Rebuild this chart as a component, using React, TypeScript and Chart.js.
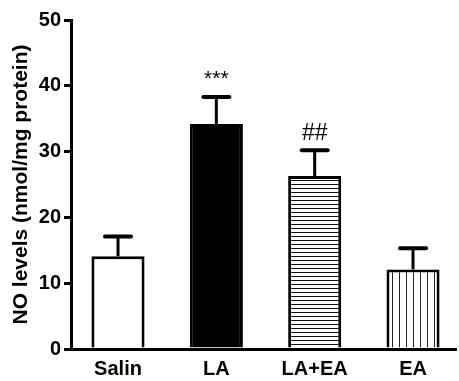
import React, { useEffect, useRef } from 'react';
import { Chart, registerables } from 'chart.js';

Chart.register(...registerables);

const categories = ['Salin', 'LA', 'LA+EA', 'EA'];
const means = [14.1, 34.2, 26.3, 12.1];
const sems = [3.0, 4.1, 3.9, 3.2];
const marks = ['', '***', '##', ''];
const yMin = 0;
const yMax = 50;
const yStep = 10;
const yTitle = 'NO levels (nmol/mg protein)';

const FONT = "'Liberation Sans', Arial, Helvetica, sans-serif";

export default function App() {
  const canvasRef = useRef<HTMLCanvasElement | null>(null);

  useEffect(() => {
    const canvas = canvasRef.current;
    if (!canvas) return;
    const ctx = canvas.getContext('2d')!;

    const hTile = document.createElement('canvas');
    hTile.width = 8;
    hTile.height = 4;
    const hg = hTile.getContext('2d')!;
    hg.fillStyle = '#fff';
    hg.fillRect(0, 0, 8, 4);
    hg.fillStyle = '#111';
    hg.fillRect(0, 0, 8, 1);
    const hPattern = ctx.createPattern(hTile, 'repeat');

    const vTile = document.createElement('canvas');
    vTile.width = 7;
    vTile.height = 4;
    const vg = vTile.getContext('2d')!;
    vg.fillStyle = '#fff';
    vg.fillRect(0, 0, 7, 4);
    vg.fillStyle = '#222';
    vg.fillRect(0, 0, 1, 4);
    const vPattern = ctx.createPattern(vTile, 'repeat');

    const fills = ['#ffffff', '#000000', hPattern, vPattern];

    const errorBars = {
      id: 'errorBars',
      afterDatasetsDraw(chart: any) {
        const c = chart.ctx;
        const meta = chart.getDatasetMeta(0);
        const ys = chart.scales.y;
        c.save();
        c.strokeStyle = '#000';
        c.fillStyle = '#000';
        meta.data.forEach((bar: any, i: number) => {
          const x = bar.x;
          const top = ys.getPixelForValue(means[i]);
          const end = ys.getPixelForValue(means[i] + sems[i]);
          c.lineWidth = 3;
          c.lineCap = 'butt';
          c.beginPath();
          c.moveTo(x, top);
          c.lineTo(x, end);
          c.stroke();
          c.lineWidth = 4;
          c.lineCap = 'round';
          c.beginPath();
          c.moveTo(x - 13, end);
          c.lineTo(x + 13, end);
          c.stroke();
          if (marks[i]) {
            const hash = marks[i].startsWith('#');
            c.font = `${hash ? 23 : 21}px ${FONT}`;
            c.textAlign = 'center';
            c.textBaseline = 'bottom';
            c.fillText(marks[i], x, end - (hash ? 5 : 7));
          }
        });
        c.restore();
      },
    };

    const chart = new Chart(canvas, {
      type: 'bar',
      data: {
        datasets: [
          {
            data: means.map((m, i) => ({ x: i, y: m })),
            backgroundColor: fills as any,
            borderColor: '#000',
            borderWidth: 3,
            borderSkipped: 'bottom',
            barPercentage: 0.54,
            categoryPercentage: 1,
          },
        ],
      },
      options: {
        responsive: false,
        animation: false,
        events: [],
        layout: { padding: { left: 0, top: 20, right: 3, bottom: 0 } },
        plugins: { legend: { display: false }, tooltip: { enabled: false } },
        scales: {
          x: {
            type: 'linear',
            offset: false,
            min: -0.478,
            max: 3.437,
            grid: { display: false, drawTicks: false, offset: false },
            border: { display: true, width: 3, color: '#000' },
            afterBuildTicks: (scale: any) => {
              scale.ticks = categories.map((_, i) => ({ value: i }));
            },
            afterFit: (scale: any) => {
              scale.height = 32;
            },
            ticks: {
              callback: (v: any) => categories[v as number] ?? '',
              color: '#000',
              font: { family: FONT, size: 20, weight: 'bold' },
              padding: 8,
              maxRotation: 0,
              autoSkip: false,
            },
          },
          y: {
            min: yMin,
            max: yMax,
            grid: {
              display: true,
              drawOnChartArea: false,
              drawTicks: true,
              tickLength: 7,
              lineWidth: 3,
              color: '#000',
            },
            border: { display: true, width: 3, color: '#000' },
            afterFit: (scale: any) => {
              scale.width = 71;
            },
            ticks: {
              stepSize: yStep,
              color: '#000',
              font: { family: FONT, size: 20, weight: 'bold' },
              padding: 3,
            },
            title: {
              display: true,
              text: yTitle,
              color: '#000',
              font: { family: FONT, size: 21, weight: 'bold' },
              padding: { top: 9, bottom: 0 },
            },
          },
        },
      },
      plugins: [errorBars],
    } as any);

    return () => chart.destroy();
  }, []);

  return (
    <div style={{ position: 'fixed', left: 0, top: 0, width: 459, height: 381, background: '#fff' }}>
      <canvas ref={canvasRef} width={459} height={381} style={{ display: 'block' }} />
    </div>
  );
}
